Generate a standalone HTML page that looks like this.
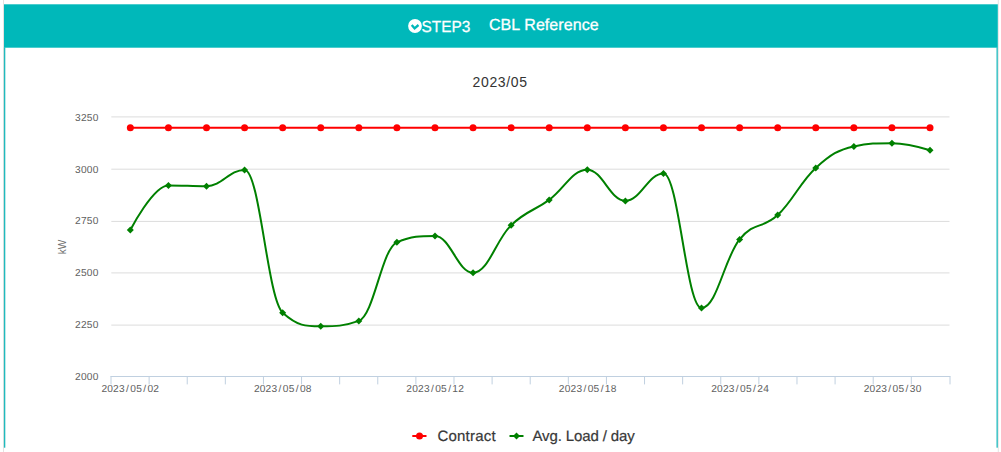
<!DOCTYPE html>
<html><head><meta charset="utf-8"><title>CBL Reference</title>
<style>
html,body{margin:0;padding:0;background:#fff;}
body{width:1001px;height:452px;overflow:hidden;position:relative;font-family:"Liberation Sans",sans-serif;}
.head{position:absolute;left:4px;top:4px;width:993px;height:44px;color:#fff;}
.ico{position:absolute;left:402.9px;top:14px;width:16px;height:16px;}
svg.chart{position:absolute;left:0;top:0;}
.ax{font-size:10.2px;letter-spacing:0.2px;text-rendering:geometricPrecision;fill:#606060;font-family:"Liberation Sans",sans-serif;}
.hd{fill:#fff;stroke:#fff;font-family:"Liberation Sans",sans-serif;text-rendering:geometricPrecision;}
.lg{font-size:15px;fill:#383838;stroke:#383838;stroke-width:0.2px;text-rendering:geometricPrecision;font-family:"Liberation Sans",sans-serif;}
</style></head><body>
<svg class="chart" width="1001" height="452" viewBox="0 0 1001 452">
<rect x="3.0" y="0" width="0.9" height="452" fill="#e2dede"/><rect x="997.8" y="0" width="0.9" height="452" fill="#e2dede"/>
<rect x="3.9" y="47.4" width="1.4" height="400.3" fill="#1fbabd"/><rect x="996.5" y="47.4" width="1.3" height="400.3" fill="#1fbabd"/>
<rect x="4.0" y="4.3" width="993.8" height="43.4" fill="#00b8ba"/>
</svg>
<div class="head">
<svg class="ico" viewBox="-8 -8 16 16"><circle cx="0" cy="0" r="6.9" fill="#fff"/><path d="M-3.3 -1.1 L-0.4 2.3 L3.5 -1.0" fill="none" stroke="#00b8ba" stroke-width="2.3"/></svg>

</div>
<svg class="chart" width="1001" height="452" viewBox="0 0 1001 452">
<text transform="translate(421.5,31.65) scale(0.963,1)" class="hd" style="font-size:16px;stroke-width:0.25px">STEP3</text>
<text x="489.0" y="29.9" class="hd" style="font-size:16px;stroke-width:0.3px;letter-spacing:0.07px">CBL Reference</text>
<text x="500.1" y="86.9" text-anchor="middle" style="letter-spacing:0.62px;font-size:14px;fill:#333;font-family:'Liberation Sans',sans-serif">2023/05</text>
<path d="M 111.3 116.9 L 949.5 116.9" stroke="#dcdcdc" stroke-width="1"/>
<path d="M 111.3 169.2 L 949.5 169.2" stroke="#dcdcdc" stroke-width="1"/>
<path d="M 111.3 221.4 L 949.5 221.4" stroke="#dcdcdc" stroke-width="1"/>
<path d="M 111.3 272.9 L 949.5 272.9" stroke="#dcdcdc" stroke-width="1"/>
<path d="M 111.3 325.1 L 949.5 325.1" stroke="#dcdcdc" stroke-width="1"/>
<path d="M 110.4 376.5 L 950.5 376.5" stroke="#c0d0e0" stroke-width="1"/>
<path d="M 111.00 376.5 L 111.00 384.4" stroke="#c0d0e0" stroke-width="1"/>
<path d="M 149.11 376.5 L 149.11 384.4" stroke="#c0d0e0" stroke-width="1"/>
<path d="M 187.22 376.5 L 187.22 384.4" stroke="#c0d0e0" stroke-width="1"/>
<path d="M 225.33 376.5 L 225.33 384.4" stroke="#c0d0e0" stroke-width="1"/>
<path d="M 263.44 376.5 L 263.44 384.4" stroke="#c0d0e0" stroke-width="1"/>
<path d="M 301.55 376.5 L 301.55 384.4" stroke="#c0d0e0" stroke-width="1"/>
<path d="M 339.66 376.5 L 339.66 384.4" stroke="#c0d0e0" stroke-width="1"/>
<path d="M 377.77 376.5 L 377.77 384.4" stroke="#c0d0e0" stroke-width="1"/>
<path d="M 415.88 376.5 L 415.88 384.4" stroke="#c0d0e0" stroke-width="1"/>
<path d="M 453.99 376.5 L 453.99 384.4" stroke="#c0d0e0" stroke-width="1"/>
<path d="M 492.10 376.5 L 492.10 384.4" stroke="#c0d0e0" stroke-width="1"/>
<path d="M 530.21 376.5 L 530.21 384.4" stroke="#c0d0e0" stroke-width="1"/>
<path d="M 568.32 376.5 L 568.32 384.4" stroke="#c0d0e0" stroke-width="1"/>
<path d="M 606.43 376.5 L 606.43 384.4" stroke="#c0d0e0" stroke-width="1"/>
<path d="M 644.54 376.5 L 644.54 384.4" stroke="#c0d0e0" stroke-width="1"/>
<path d="M 682.65 376.5 L 682.65 384.4" stroke="#c0d0e0" stroke-width="1"/>
<path d="M 720.76 376.5 L 720.76 384.4" stroke="#c0d0e0" stroke-width="1"/>
<path d="M 758.87 376.5 L 758.87 384.4" stroke="#c0d0e0" stroke-width="1"/>
<path d="M 796.98 376.5 L 796.98 384.4" stroke="#c0d0e0" stroke-width="1"/>
<path d="M 835.09 376.5 L 835.09 384.4" stroke="#c0d0e0" stroke-width="1"/>
<path d="M 873.20 376.5 L 873.20 384.4" stroke="#c0d0e0" stroke-width="1"/>
<path d="M 911.31 376.5 L 911.31 384.4" stroke="#c0d0e0" stroke-width="1"/>
<path d="M 950.00 376.5 L 950.00 384.4" stroke="#c0d0e0" stroke-width="1"/>
<text x="98.5" y="120.95" text-anchor="end" class="ax">3250</text>
<text x="98.5" y="172.55" text-anchor="end" class="ax">3000</text>
<text x="98.5" y="223.95" text-anchor="end" class="ax">2750</text>
<text x="98.5" y="276.25" text-anchor="end" class="ax">2500</text>
<text x="98.5" y="327.65" text-anchor="end" class="ax">2250</text>
<text x="98.5" y="379.95" text-anchor="end" class="ax">2000</text>
<text x="101.4" y="392.4" class="ax xl">2023<tspan dx="1.2">/</tspan><tspan dx="1.2">05</tspan><tspan dx="1.2">/</tspan><tspan dx="1.2">02</tspan></text>
<text x="253.9" y="392.4" class="ax xl">2023<tspan dx="1.2">/</tspan><tspan dx="1.2">05</tspan><tspan dx="1.2">/</tspan><tspan dx="1.2">08</tspan></text>
<text x="406.3" y="392.4" class="ax xl">2023<tspan dx="1.2">/</tspan><tspan dx="1.2">05</tspan><tspan dx="1.2">/</tspan><tspan dx="1.2">12</tspan></text>
<text x="558.8" y="392.4" class="ax xl">2023<tspan dx="1.2">/</tspan><tspan dx="1.2">05</tspan><tspan dx="1.2">/</tspan><tspan dx="1.2">18</tspan></text>
<text x="711.2" y="392.4" class="ax xl">2023<tspan dx="1.2">/</tspan><tspan dx="1.2">05</tspan><tspan dx="1.2">/</tspan><tspan dx="1.2">24</tspan></text>
<text x="863.7" y="392.4" class="ax xl">2023<tspan dx="1.2">/</tspan><tspan dx="1.2">05</tspan><tspan dx="1.2">/</tspan><tspan dx="1.2">30</tspan></text>

<text transform="translate(65.5,247) rotate(-90)" text-anchor="middle" style="font-size:10px;fill:#707070;font-family:'Liberation Sans',sans-serif">kW</text>
<path d="M 130.34 127.7 L 930.01 127.7" fill="none" stroke="#ff0000" stroke-width="2" stroke-linecap="round"/>
<circle cx="130.34" cy="127.7" r="3.5" fill="#ff0000"/>
<circle cx="168.42" cy="127.7" r="3.5" fill="#ff0000"/>
<circle cx="206.50" cy="127.7" r="3.5" fill="#ff0000"/>
<circle cx="244.58" cy="127.7" r="3.5" fill="#ff0000"/>
<circle cx="282.66" cy="127.7" r="3.5" fill="#ff0000"/>
<circle cx="320.74" cy="127.7" r="3.5" fill="#ff0000"/>
<circle cx="358.82" cy="127.7" r="3.5" fill="#ff0000"/>
<circle cx="396.90" cy="127.7" r="3.5" fill="#ff0000"/>
<circle cx="434.98" cy="127.7" r="3.5" fill="#ff0000"/>
<circle cx="473.06" cy="127.7" r="3.5" fill="#ff0000"/>
<circle cx="511.14" cy="127.7" r="3.5" fill="#ff0000"/>
<circle cx="549.21" cy="127.7" r="3.5" fill="#ff0000"/>
<circle cx="587.29" cy="127.7" r="3.5" fill="#ff0000"/>
<circle cx="625.37" cy="127.7" r="3.5" fill="#ff0000"/>
<circle cx="663.45" cy="127.7" r="3.5" fill="#ff0000"/>
<circle cx="701.53" cy="127.7" r="3.5" fill="#ff0000"/>
<circle cx="739.61" cy="127.7" r="3.5" fill="#ff0000"/>
<circle cx="777.69" cy="127.7" r="3.5" fill="#ff0000"/>
<circle cx="815.77" cy="127.7" r="3.5" fill="#ff0000"/>
<circle cx="853.85" cy="127.7" r="3.5" fill="#ff0000"/>
<circle cx="891.93" cy="127.7" r="3.5" fill="#ff0000"/>
<circle cx="930.01" cy="127.7" r="3.5" fill="#ff0000"/>
<path d="M 130.34 230.00 C 130.34 230.00 153.19 185.40 168.42 185.40 C 183.65 185.40 191.27 186.20 206.50 186.20 C 221.73 186.20 229.35 169.90 244.58 169.90 C 259.81 169.90 267.43 299.10 282.66 312.70 C 297.89 326.30 305.51 326.30 320.74 326.30 C 335.97 326.30 343.59 326.30 358.82 320.90 C 374.05 315.50 381.66 248.60 396.90 242.30 C 412.13 236.00 419.74 236.00 434.98 236.00 C 450.21 236.00 457.82 272.80 473.06 272.80 C 488.29 272.80 495.90 239.78 511.14 225.20 C 526.37 210.62 533.98 211.00 549.21 199.90 C 564.45 188.80 572.06 169.70 587.29 169.70 C 602.53 169.70 610.14 200.90 625.37 200.90 C 640.61 200.90 648.22 173.40 663.45 173.40 C 678.69 173.40 686.30 308.00 701.53 308.00 C 716.76 308.00 724.38 257.98 739.61 239.40 C 754.84 220.82 762.46 229.40 777.69 215.10 C 792.92 200.80 800.54 181.64 815.77 167.90 C 831.00 154.16 838.62 149.60 853.85 146.40 C 869.08 143.20 876.70 143.20 891.93 143.20 C 907.16 143.20 930.01 150.20 930.01 150.20" fill="none" stroke="#008000" stroke-width="2" stroke-linejoin="round" stroke-linecap="round"/>
<path d="M 130.34 226.50 L 133.84 230.00 L 130.34 233.50 L 126.84 230.00 Z" fill="#008000"/>
<path d="M 168.42 181.90 L 171.92 185.40 L 168.42 188.90 L 164.92 185.40 Z" fill="#008000"/>
<path d="M 206.50 182.70 L 210.00 186.20 L 206.50 189.70 L 203.00 186.20 Z" fill="#008000"/>
<path d="M 244.58 166.40 L 248.08 169.90 L 244.58 173.40 L 241.08 169.90 Z" fill="#008000"/>
<path d="M 282.66 309.20 L 286.16 312.70 L 282.66 316.20 L 279.16 312.70 Z" fill="#008000"/>
<path d="M 320.74 322.80 L 324.24 326.30 L 320.74 329.80 L 317.24 326.30 Z" fill="#008000"/>
<path d="M 358.82 317.40 L 362.32 320.90 L 358.82 324.40 L 355.32 320.90 Z" fill="#008000"/>
<path d="M 396.90 238.80 L 400.40 242.30 L 396.90 245.80 L 393.40 242.30 Z" fill="#008000"/>
<path d="M 434.98 232.50 L 438.48 236.00 L 434.98 239.50 L 431.48 236.00 Z" fill="#008000"/>
<path d="M 473.06 269.30 L 476.56 272.80 L 473.06 276.30 L 469.56 272.80 Z" fill="#008000"/>
<path d="M 511.14 221.70 L 514.64 225.20 L 511.14 228.70 L 507.64 225.20 Z" fill="#008000"/>
<path d="M 549.21 196.40 L 552.71 199.90 L 549.21 203.40 L 545.71 199.90 Z" fill="#008000"/>
<path d="M 587.29 166.20 L 590.79 169.70 L 587.29 173.20 L 583.79 169.70 Z" fill="#008000"/>
<path d="M 625.37 197.40 L 628.87 200.90 L 625.37 204.40 L 621.87 200.90 Z" fill="#008000"/>
<path d="M 663.45 169.90 L 666.95 173.40 L 663.45 176.90 L 659.95 173.40 Z" fill="#008000"/>
<path d="M 701.53 304.50 L 705.03 308.00 L 701.53 311.50 L 698.03 308.00 Z" fill="#008000"/>
<path d="M 739.61 235.90 L 743.11 239.40 L 739.61 242.90 L 736.11 239.40 Z" fill="#008000"/>
<path d="M 777.69 211.60 L 781.19 215.10 L 777.69 218.60 L 774.19 215.10 Z" fill="#008000"/>
<path d="M 815.77 164.40 L 819.27 167.90 L 815.77 171.40 L 812.27 167.90 Z" fill="#008000"/>
<path d="M 853.85 142.90 L 857.35 146.40 L 853.85 149.90 L 850.35 146.40 Z" fill="#008000"/>
<path d="M 891.93 139.70 L 895.43 143.20 L 891.93 146.70 L 888.43 143.20 Z" fill="#008000"/>
<path d="M 930.01 146.70 L 933.51 150.20 L 930.01 153.70 L 926.51 150.20 Z" fill="#008000"/>
<path d="M 412.3 436 L 426.5 436" stroke="#ff0000" stroke-width="2"/><circle cx="419.5" cy="436" r="3.5" fill="#ff0000"/>
<text x="437.5" y="440.6" class="lg" style="letter-spacing:0.2px">Contract</text>
<path d="M 509.5 436 L 523.5 436" stroke="#008000" stroke-width="2"/><path d="M 516.5 432.5 L 520 436 L 516.5 439.5 L 513 436 Z" fill="#008000"/>
<text x="532.5" y="440.6" class="lg" style="letter-spacing:-0.13px">Avg. Load / day</text>
</svg>
</body></html>
